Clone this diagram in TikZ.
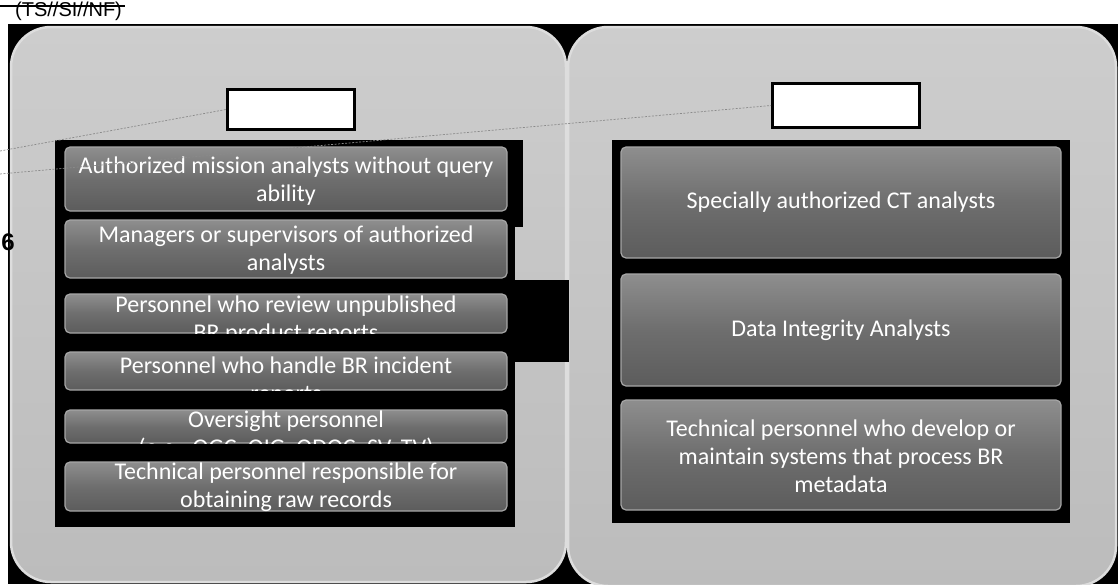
\documentclass[tikz,border=0pt]{standalone}
\usepackage{fontspec}
\setmainfont{Carlito}
\newfontfamily\arialf{Liberation Sans}
\definecolor{panelTop}{HTML}{CDCDCD}
\definecolor{panelBot}{HTML}{BCBCBC}
\definecolor{panelEdge}{HTML}{DDDDDD}
\definecolor{barTop}{HTML}{8E8E8E}
\definecolor{barMid}{HTML}{6E6E6E}
\definecolor{barBot}{HTML}{5C5C5C}
\definecolor{barEdge}{HTML}{A6A6A6}
\definecolor{leadgray}{HTML}{8A8A8A}
\tikzset{
  panelbg/.style={rounded corners=40pt, top color=panelTop, bottom color=panelBot, draw=panelEdge, line width=2.5pt},
  innerblk/.style={fill=black},
  bar/.style={rectangle, rounded corners=5pt, top color=barTop, bottom color=barBot, middle color=barMid, draw=barEdge, line width=1.2pt, inner sep=0pt},
  bartext/.style={text=white, font=\fontsize{24}{28}\selectfont, align=center, inner sep=0pt},
  labelbox/.style={rectangle, fill=white, draw=black, line width=3pt, inner sep=0pt},
  leader/.style={draw=leadgray, line width=0.7pt, dash pattern=on 2pt off 1.5pt},
}
\begin{document}
\begin{tikzpicture}[x=1pt,y=-1pt]
\useasboundingbox (0,0) rectangle (1118,584);
% background
\fill[black] (8,24) rectangle (1118,584);
% panels
\path[panelbg] (11,27) rectangle (566,582);
\path[panelbg] (568,27) rectangle (1116,586);
% inner black regions
\fill[innerblk] (55,140) rectangle (515,527);
\fill[innerblk] (515,140) rectangle (523,227);
\fill[innerblk] (514,280) rectangle (569,362);
\fill[innerblk] (612,140) rectangle (1070,523);
% left bars
\node[bar, minimum width=442pt, minimum height=64pt] (b1) at (286,179) {};
\node[bar, minimum width=442pt, minimum height=58pt] (b2) at (286,249) {};
\node[bar, minimum width=442pt, minimum height=39pt] (b3) at (286,313.5) {};
\node[bar, minimum width=442pt, minimum height=38pt] (b4) at (286,371) {};
\node[bar, minimum width=442pt, minimum height=33pt] (b5) at (286,426.5) {};
\node[bar, minimum width=442pt, minimum height=49pt] (b6) at (286,486.5) {};
\node[bartext] (t1) at (286,181) {Authorized mission analysts without query\\ability};
\node[bartext] (t2) at (286,250) {Managers or supervisors of authorized\\analysts};
\begin{scope}
  \clip (b3.south west) rectangle (b3.north east);
  \node[bartext] (t3) at (286,320) {Personnel who review unpublished\\BR product reports};
\end{scope}
\begin{scope}
  \clip (b4.south west) rectangle (b4.north east);
  \node[bartext] (t4) at (286,381) {Personnel who handle BR incident\\reports};
\end{scope}
\begin{scope}
  \clip (b5.south west) rectangle (b5.north east);
  \node[bartext] (t5) at (286,435) {Oversight personnel\\(e.g., OGC, OIG, ODOC, SV, TV)};
\end{scope}
\node[bartext] (t6) at (286,487) {Technical personnel responsible for\\obtaining raw records};
% right bars
\node[bar, minimum width=440pt, minimum height=111pt] (r1) at (841,202.5) {};
\node[bar, minimum width=440pt, minimum height=112pt] (r2) at (841,330) {};
\node[bar, minimum width=440pt, minimum height=110pt] (r3) at (841,455) {};
\node[bartext] (rt1) at (841,202) {Specially authorized CT analysts};
\node[bartext] (rt2) at (841,330) {Data Integrity Analysts};
\node[bartext] (rt3) at (841,456) {Technical personnel who develop or\\maintain systems that process BR\\metadata};
% label boxes
\node[labelbox, minimum width=127pt, minimum height=40pt] (lb) at (291,109.5) {};
\node[labelbox, minimum width=147pt, minimum height=44pt] (rb) at (846,105.5) {};
% leader lines
\coordinate (ea) at (0,151);
\coordinate (eb) at (0,174);
\draw[leader] (ea) -- (lb.west);
\draw[leader] (eb) -- (rb.west);
% classification marking
\node[font=\arialf\fontsize{20}{20}\selectfont, anchor=base west, inner sep=0pt] (cls) at (15,16) {(TS//SI//NF)};
\coordinate (st0) at (0,6);
\draw[line width=1.3pt] (st0) -- ([xshift=3pt]st0 -| cls.east);
% side number
\node[font=\arialf\bfseries\fontsize{24}{24}\selectfont, inner sep=0pt] (six) at (8,242) {6};
\end{tikzpicture}
\end{document}
